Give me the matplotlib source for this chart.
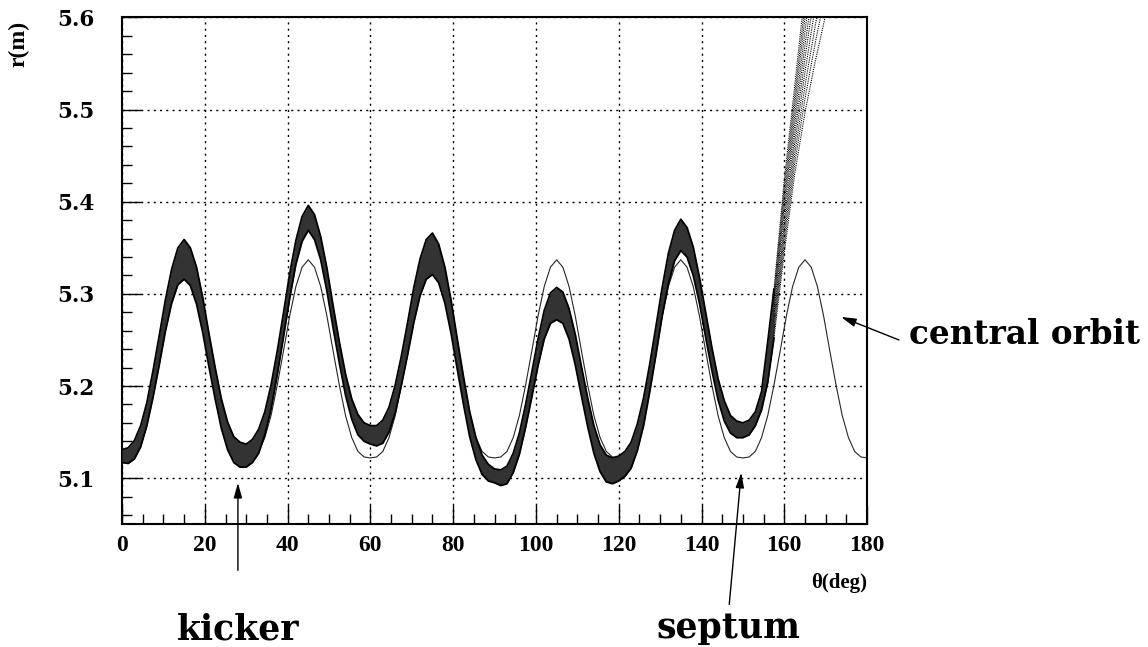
import numpy as np
import matplotlib
matplotlib.use("Agg")
import matplotlib.pyplot as plt
from matplotlib.ticker import MultipleLocator

# Sampling grid (deg) for the orbits
theta_central = np.arange(0, 180.1, 1.5)
theta_band = np.arange(0, 157.6, 1.5)

# Central orbit r(m), one value every 1.5 deg
r_central = [
    5.122, 5.123, 5.129, 5.144, 5.168, 5.201, 5.238, 5.276, 5.308, 5.329,
    5.337, 5.329, 5.308, 5.276, 5.238, 5.201, 5.168, 5.144, 5.129, 5.123,
    5.122, 5.123, 5.129, 5.144, 5.168, 5.201, 5.238, 5.276, 5.308, 5.329,
    5.337, 5.329, 5.308, 5.276, 5.238, 5.201, 5.168, 5.144, 5.129, 5.123,
    5.122, 5.123, 5.129, 5.144, 5.168, 5.201, 5.238, 5.276, 5.308, 5.329,
    5.337, 5.329, 5.308, 5.276, 5.238, 5.201, 5.168, 5.144, 5.129, 5.123,
    5.122, 5.123, 5.129, 5.144, 5.168, 5.201, 5.238, 5.276, 5.308, 5.329,
    5.337, 5.329, 5.308, 5.276, 5.238, 5.201, 5.168, 5.144, 5.129, 5.123,
    5.122, 5.123, 5.129, 5.144, 5.168, 5.201, 5.238, 5.276, 5.308, 5.329,
    5.337, 5.329, 5.308, 5.276, 5.238, 5.201, 5.168, 5.144, 5.129, 5.123,
    5.122, 5.123, 5.129, 5.144, 5.168, 5.201, 5.238, 5.276, 5.308, 5.329,
    5.337, 5.329, 5.308, 5.276, 5.238, 5.201, 5.168, 5.144, 5.129, 5.123,
    5.122,
]

# Kicked beam bundle: upper and lower edge, every 1.5 deg up to 157.5
band_upper = [
    5.131, 5.133, 5.141, 5.157, 5.182, 5.217, 5.255, 5.294, 5.327, 5.350, 5.359,
    5.350, 5.329, 5.296, 5.257, 5.220, 5.186, 5.161, 5.145, 5.139, 5.137,
    5.142, 5.153, 5.172, 5.201, 5.238, 5.279, 5.322, 5.358, 5.384, 5.396,
    5.386, 5.362, 5.328, 5.287, 5.248, 5.213, 5.186, 5.169, 5.160, 5.157,
    5.157, 5.163, 5.177, 5.201, 5.233, 5.269, 5.307, 5.338, 5.359, 5.366,
    5.354, 5.329, 5.293, 5.251, 5.210, 5.172, 5.144, 5.125, 5.115, 5.110,
    5.109, 5.113, 5.127, 5.149, 5.180, 5.215, 5.251, 5.282, 5.301, 5.307,
    5.302, 5.284, 5.256, 5.221, 5.187, 5.157, 5.136, 5.125, 5.122, 5.124,
    5.129, 5.139, 5.159, 5.187, 5.224, 5.265, 5.307, 5.344, 5.369, 5.381,
    5.372, 5.351, 5.318, 5.280, 5.242, 5.208, 5.184, 5.168, 5.162, 5.160,
    5.163, 5.172, 5.194, 5.248, 5.305,
]
band_lower = [
    5.117, 5.116, 5.121, 5.134, 5.157, 5.188, 5.223, 5.260, 5.290, 5.310, 5.316,
    5.309, 5.289, 5.258, 5.221, 5.186, 5.154, 5.131, 5.117, 5.112, 5.112,
    5.117, 5.127, 5.147, 5.175, 5.212, 5.253, 5.295, 5.332, 5.357, 5.369,
    5.359, 5.337, 5.303, 5.263, 5.225, 5.190, 5.164, 5.147, 5.140, 5.137,
    5.135, 5.138, 5.150, 5.171, 5.201, 5.234, 5.269, 5.298, 5.316, 5.321,
    5.312, 5.290, 5.257, 5.218, 5.180, 5.145, 5.120, 5.104, 5.097, 5.095,
    5.092, 5.094, 5.106, 5.126, 5.155, 5.188, 5.222, 5.251, 5.268, 5.272,
    5.268, 5.251, 5.223, 5.189, 5.156, 5.127, 5.107, 5.096, 5.094, 5.097,
    5.102, 5.111, 5.130, 5.157, 5.194, 5.234, 5.276, 5.311, 5.336, 5.347,
    5.340, 5.320, 5.290, 5.253, 5.217, 5.185, 5.162, 5.149, 5.144, 5.144,
    5.147, 5.157, 5.174, 5.204, 5.252,
]

# Extracted trajectories after the septum (fan)
fan_theta = [157.5, 160, 162.5, 165, 167.5, 170, 172.5]
fan_r = [
    [5.305, 5.424, 5.525, 5.629, 5.730, 5.830, 5.930],
    [5.299, 5.415, 5.514, 5.614, 5.710, 5.805, 5.899],
    [5.293, 5.406, 5.504, 5.600, 5.691, 5.780, 5.868],
    [5.287, 5.398, 5.493, 5.585, 5.671, 5.754, 5.837],
    [5.281, 5.389, 5.483, 5.570, 5.651, 5.729, 5.806],
    [5.276, 5.380, 5.472, 5.556, 5.632, 5.704, 5.774],
    [5.270, 5.371, 5.462, 5.541, 5.612, 5.679, 5.743],
    [5.264, 5.363, 5.451, 5.526, 5.592, 5.653, 5.712],
    [5.258, 5.354, 5.441, 5.512, 5.573, 5.628, 5.681],
    [5.252, 5.345, 5.430, 5.497, 5.553, 5.603, 5.650],
]

x_ticks = [0, 20, 40, 60, 80, 100, 120, 140, 160, 180]
y_ticks = [5.1, 5.2, 5.3, 5.4, 5.5, 5.6]

serif = ["Liberation Serif", "DejaVu Serif"]

fig = plt.figure(figsize=(11.48, 6.47), dpi=100)
ax = fig.add_axes([0.1063, 0.1897, 0.6490, 0.7833])

# central orbit (drawn under the bundle)
ax.plot(theta_central, r_central, color="0.15", lw=0.8, zorder=2)

# bundle of kicked orbits
ax.fill_between(theta_band, band_lower, band_upper, color="0.2", lw=0, zorder=3)
ax.plot(theta_band, band_upper, color="black", lw=1.3, zorder=3)
ax.plot(theta_band, band_lower, color="black", lw=1.3, zorder=3)

# fan of extracted particles
for r_line in fan_r:
    ax.plot(fan_theta, r_line, color="black", lw=0.8, ls=(0, (1, 1)), zorder=3)

ax.set_xlim(0, 180)
ax.set_ylim(5.05, 5.6)
ax.set_xticks(x_ticks)
ax.set_yticks(y_ticks)
ax.xaxis.set_minor_locator(MultipleLocator(5))
ax.yaxis.set_minor_locator(MultipleLocator(0.02))
ax.set_xticklabels([str(v) for v in x_ticks], fontfamily=serif, fontweight="bold", fontsize=17)
ax.set_yticklabels(["%.1f" % v for v in y_ticks], fontfamily="DejaVu Serif", fontweight="bold", fontsize=15.5)
ax.tick_params(which="major", direction="in", length=14, width=1.0, top=False, right=False)
ax.tick_params(which="minor", direction="in", length=7.5, width=1.0, top=False, right=False)
ax.tick_params(axis="x", which="major", pad=8)
ax.tick_params(axis="y", which="major", pad=20)
ax.grid(True, which="major", color="black", lw=1.0, ls=(0, (1.5, 3)))
for s in ax.spines.values():
    s.set_linewidth(1.5)

# axis titles
fig.text(19 / 1148, 1 - 44 / 647, "r(m)", rotation=90, ha="center", va="center",
         fontfamily=serif, fontweight="bold", fontsize=17)
fig.text(867 / 1148, 1 - 583 / 647, "θ(deg)", ha="right", va="center",
         fontfamily=serif, fontweight="bold", fontsize=15)

# annotations
arrow = dict(arrowstyle="-|>,head_length=0.9,head_width=0.25", color="black", lw=1.0,
             shrinkA=0, shrinkB=0)
ax.annotate("", xy=(28.0, 5.095), xytext=(28.0, 5.0), arrowprops=arrow, annotation_clip=False)
ax.annotate("", xy=(149.6, 5.106), xytext=(146.7, 4.963), arrowprops=arrow, annotation_clip=False)
ax.annotate("", xy=(173.7, 5.275), xytext=(187.7, 5.250), arrowprops=arrow, annotation_clip=False)

fig.text(238 / 1148, 1 - 630 / 647, "kicker", ha="center", va="center",
         fontfamily="DejaVu Serif", fontweight="bold", fontsize=25)
fig.text(728 / 1148, 1 - 628 / 647, "septum", ha="center", va="center",
         fontfamily="DejaVu Serif", fontweight="bold", fontsize=25)
fig.text(909 / 1148, 1 - 334 / 647, "central orbit", ha="left", va="center",
         fontfamily="DejaVu Serif", fontweight="bold", fontsize=23.5)

fig.savefig("out.png", dpi=100)
